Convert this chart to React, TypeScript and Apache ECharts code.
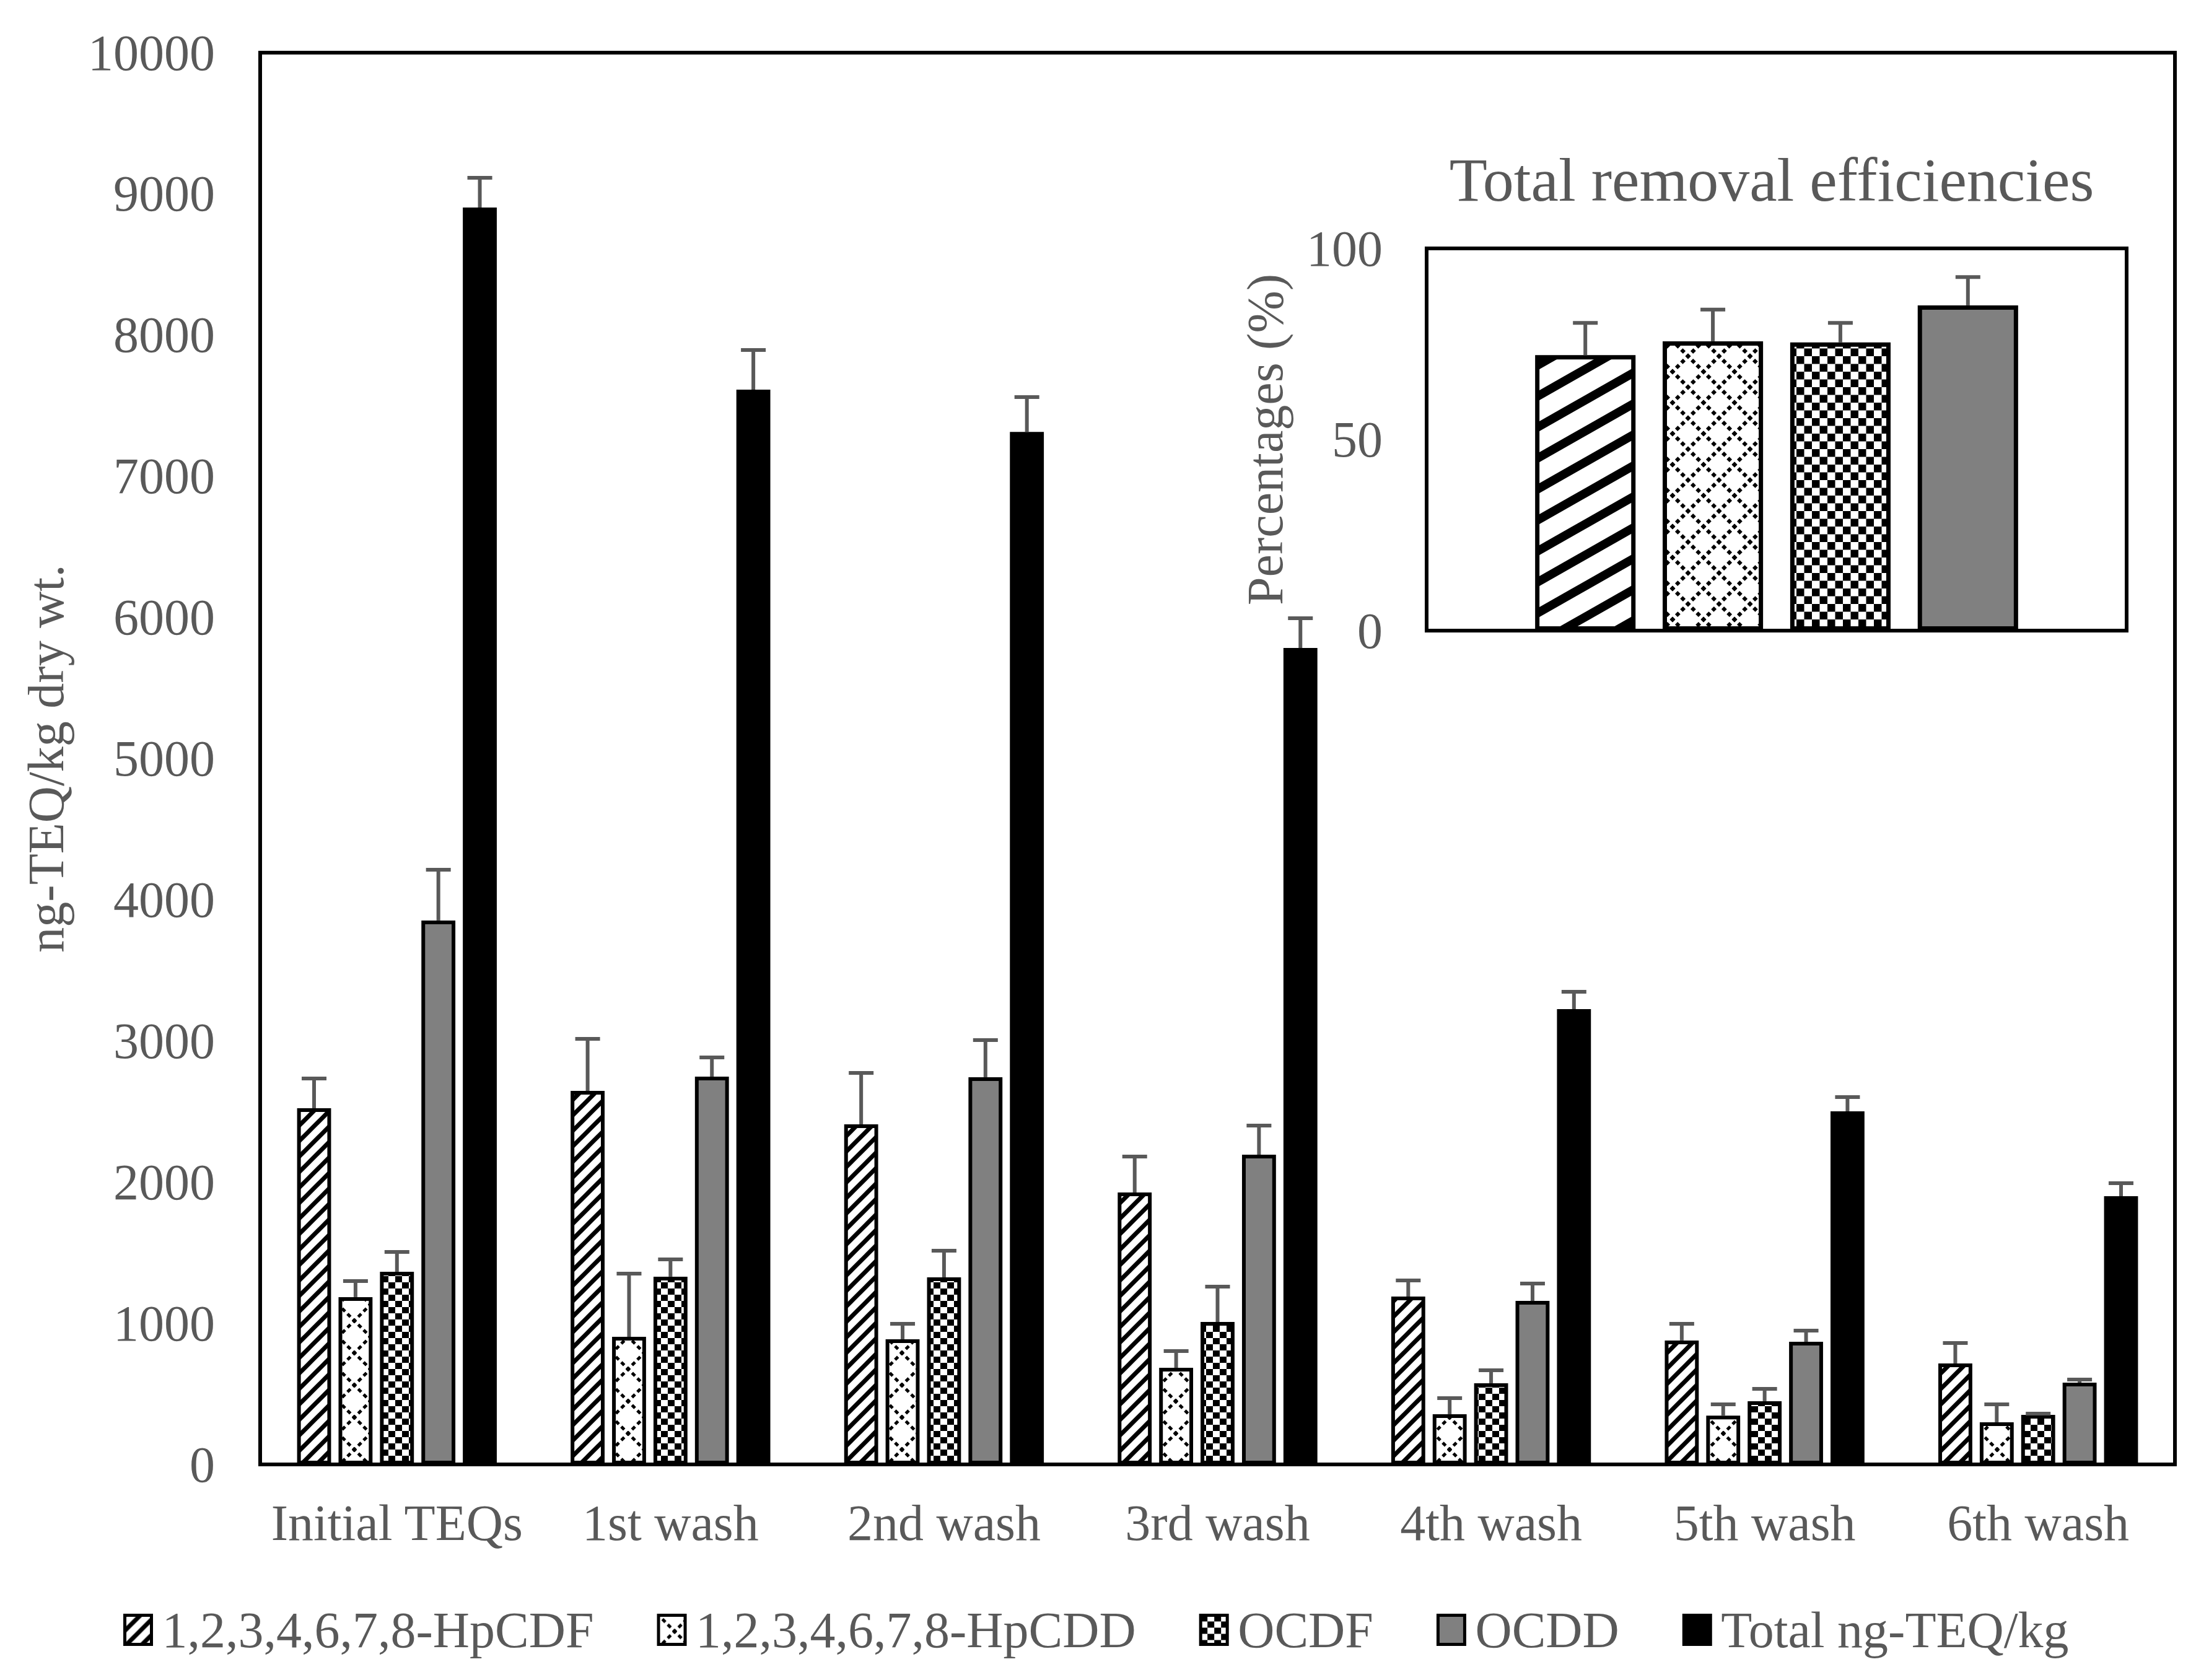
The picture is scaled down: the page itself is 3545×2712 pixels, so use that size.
import React, { useEffect, useRef } from 'react';
import * as echarts from 'echarts';

const categories = ['Initial TEQs', '1st wash', '2nd wash', '3rd wash', '4th wash', '5th wash', '6th wash'];
const seriesNames = ['1,2,3,4,6,7,8-HpCDF', '1,2,3,4,6,7,8-HpCDD', 'OCDF', 'OCDD', 'Total ng-TEQ/kg'];

const hpcdfValues = [2523, 2646, 2409, 1926, 1189, 878, 715];
const hpcdfErrors = [211, 369, 364, 255, 114, 118, 145];
const hpcddValues = [1185, 904, 886, 684, 355, 346, 298];
const hpcddErrors = [114, 447, 110, 119, 115, 80, 128];
const ocdfValues = [1365, 1330, 1325, 1009, 575, 448, 351];
const ocdfErrors = [140, 122, 189, 250, 92, 87, 9];
const ocddValues = [3853, 2747, 2742, 2194, 1158, 869, 579];
const ocddErrors = [359, 136, 264, 206, 123, 79, 22];
const totalValues = [8903, 7613, 7314, 5783, 3225, 2501, 1900];
const totalErrors = [211, 281, 246, 211, 123, 101, 92];

const insetTitle = 'Total removal efficiencies';
const insetValues = [72.1, 75.7, 75.4, 85.1];
const insetErrors = [8.4, 8.3, 5.1, 7.4];

const mainYMin = 0;
const mainYMax = 10000;
const mainYInterval = 1000;
const insetYMin = 0;
const insetYMax = 100;
const insetYInterval = 50;

const FONT = '"Liberation Serif", "Times New Roman", serif';
const TEXT = '#595959';

function makeCanvas(w: number, h: number) {
  const c = document.createElement('canvas');
  c.width = w;
  c.height = h;
  const ctx = c.getContext('2d') as CanvasRenderingContext2D;
  ctx.fillStyle = '#fff';
  ctx.fillRect(0, 0, w, h);
  return { c, ctx };
}

function stripes(px: number, py: number, lw: number) {
  const { c, ctx } = makeCanvas(px, py);
  ctx.strokeStyle = '#000';
  ctx.lineWidth = lw;
  const s = py / px;
  for (let k = -3; k <= 4; k++) {
    ctx.beginPath();
    ctx.moveTo(-px, k * py + s * px);
    ctx.lineTo(2 * px, k * py - s * 2 * px);
    ctx.stroke();
  }
  return c;
}

function lattice(p: number, lw: number) {
  const { c, ctx } = makeCanvas(p, p);
  ctx.strokeStyle = '#000';
  ctx.lineWidth = lw;
  const period = (p * Math.SQRT2) / 6;
  ctx.setLineDash([period * 0.55, period * 0.45]);
  for (let k = -2; k <= 3; k++) {
    ctx.lineDashOffset = period * 0.275;
    ctx.beginPath();
    ctx.moveTo(-p, -p + k * p);
    ctx.lineTo(2 * p, 2 * p + k * p);
    ctx.stroke();
    ctx.beginPath();
    ctx.moveTo(-p, p + k * p);
    ctx.lineTo(2 * p, -2 * p + k * p);
    ctx.stroke();
  }
  return c;
}

function checker(sx: number, sy: number) {
  const { c, ctx } = makeCanvas(sx * 2, sy * 2);
  ctx.fillStyle = '#000';
  ctx.fillRect(0, 0, sx, sy);
  ctx.fillRect(sx, sy, sx, sy);
  return c;
}

function pattern(img: HTMLCanvasElement) {
  return { image: img, repeat: 'repeat', imageWidth: img.width, imageHeight: img.height } as any;
}

function errorRender(index: number, n: number, catGap: number, barGap: number, capW: number, lw: number) {
  return (params: any, api: any) => {
    const ci = api.value(0);
    const v = api.value(1);
    const e = api.value(2);
    const base = api.coord([ci, v]);
    const top = api.coord([ci, v + e]);
    const band = api.size([1, 0])[0];
    const avail = band * (1 - catGap);
    const bw = avail / (n + (n - 1) * barGap);
    const x = base[0] - avail / 2 + index * bw * (1 + barGap) + bw / 2;
    const style = { stroke: '#595959', lineWidth: lw };
    return {
      type: 'group',
      children: [
        { type: 'line', shape: { x1: x, y1: base[1], x2: x, y2: top[1] }, style },
        { type: 'line', shape: { x1: x - capW / 2, y1: top[1], x2: x + capW / 2, y2: top[1] }, style },
      ],
    };
  };
}

export default function App() {
  const ref = useRef<HTMLDivElement>(null);

  useEffect(() => {
    if (!ref.current) return;
    const chart = echarts.init(ref.current, undefined, { renderer: 'svg' });

    const mainFills = [
      pattern(stripes(25, 25, 7)),
      pattern(lattice(52, 5)),
      pattern(checker(11, 10)),
      '#808080',
      '#000000',
    ];
    const insetFills = [
      pattern(stripes(88, 50, 14)),
      pattern(lattice(50, 6)),
      pattern(checker(12.5, 12.5)),
      '#808080',
    ];

    const mainValues = [hpcdfValues, hpcddValues, ocdfValues, ocddValues, totalValues];
    const mainErrors = [hpcdfErrors, hpcddErrors, ocdfErrors, ocddErrors, totalErrors];

    const MAIN_CAT_GAP = 0.27;
    const MAIN_BAR_GAP = 0.22;
    const INSET_CAT_GAP = 0.31;
    const INSET_BAR_GAP = 0.27;

    const series: any[] = [];
    mainValues.forEach((vals, i) => {
      series.push({
        type: 'bar',
        name: seriesNames[i],
        xAxisIndex: 0,
        yAxisIndex: 0,
        data: vals,
        barCategoryGap: MAIN_CAT_GAP * 100 + '%',
        barGap: MAIN_BAR_GAP * 100 + '%',
        itemStyle: { color: mainFills[i], borderColor: '#000', borderWidth: 6 },
      });
    });
    mainValues.forEach((vals, i) => {
      series.push({
        type: 'custom',
        name: 'err-main-' + i,
        xAxisIndex: 0,
        yAxisIndex: 0,
        z: 5,
        silent: true,
        data: vals.map((v, j) => [j, v, mainErrors[i][j]]),
        encode: { x: 0, y: 1 },
        renderItem: errorRender(i, 5, MAIN_CAT_GAP, MAIN_BAR_GAP, 40, 6),
      });
    });
    insetValues.forEach((v, i) => {
      series.push({
        type: 'bar',
        name: seriesNames[i],
        xAxisIndex: 1,
        yAxisIndex: 1,
        data: [v],
        barCategoryGap: INSET_CAT_GAP * 100 + '%',
        barGap: INSET_BAR_GAP * 100 + '%',
        itemStyle: { color: insetFills[i], borderColor: '#000', borderWidth: 7 },
      });
    });
    insetValues.forEach((v, i) => {
      series.push({
        type: 'custom',
        name: 'err-inset-' + i,
        xAxisIndex: 1,
        yAxisIndex: 1,
        z: 5,
        silent: true,
        data: [[0, v, insetErrors[i]]],
        encode: { x: 0, y: 1 },
        renderItem: errorRender(i, 4, INSET_CAT_GAP, INSET_BAR_GAP, 40, 6),
      });
    });

    const labelStyle = { color: TEXT, fontFamily: FONT, fontSize: 82 };

    chart.setOption({
      animation: false,
      backgroundColor: '#fff',
      textStyle: { fontFamily: FONT },
      grid: [
        { left: 420, top: 85, right: 34, bottom: 348, show: true, borderColor: '#000', borderWidth: 6, backgroundColor: 'transparent', containLabel: false },
        { left: 2303, top: 401, right: 112, bottom: 1694, show: true, borderColor: '#000', borderWidth: 6, backgroundColor: 'transparent', containLabel: false },
      ],
      xAxis: [
        {
          type: 'category',
          gridIndex: 0,
          data: categories,
          axisLine: { show: false },
          axisTick: { show: false },
          axisLabel: { ...labelStyle, margin: 53, interval: 0 },
        },
        {
          type: 'category',
          gridIndex: 1,
          data: [''],
          axisLine: { show: false },
          axisTick: { show: false },
          axisLabel: { show: false },
        },
      ],
      yAxis: [
        {
          type: 'value',
          gridIndex: 0,
          min: mainYMin,
          max: mainYMax,
          interval: mainYInterval,
          axisLine: { show: false },
          axisTick: { show: false },
          splitLine: { show: false },
          axisLabel: { ...labelStyle, margin: 73, formatter: (v: number) => String(v) },
          name: 'ng-TEQ/kg dry wt.',
          nameLocation: 'middle',
          nameGap: 305,
          nameTextStyle: { ...labelStyle },
        },
        {
          type: 'value',
          gridIndex: 1,
          min: insetYMin,
          max: insetYMax,
          interval: insetYInterval,
          axisLine: { show: false },
          axisTick: { show: false },
          splitLine: { show: false },
          axisLabel: { ...labelStyle, margin: 71, formatter: (v: number) => String(v) },
          name: 'Percentages (%)',
          nameLocation: 'middle',
          nameGap: 220,
          nameTextStyle: { ...labelStyle },
        },
      ],
      legend: {
        data: seriesNames,
        left: 199,
        top: 2590,
        padding: 0,
        icon: 'rect',
        itemWidth: 43,
        itemHeight: 47,
        itemGap: 102,
        itemStyle: { borderColor: '#000', borderWidth: 5 },
        textStyle: { ...labelStyle, padding: [0, 0, 0, 12] },
        selectedMode: false,
      },
      graphic: [
        {
          type: 'text',
          x: 2860,
          y: 290,
          silent: true,
          style: {
            text: insetTitle,
            fill: TEXT,
            font: '100px ' + FONT,
            textAlign: 'center',
            textVerticalAlign: 'middle',
            align: 'center',
            verticalAlign: 'middle',
          },
        },
      ],
      series,
    });

    return () => {
      chart.dispose();
    };
  }, []);

  return (
    <div
      ref={ref}
      style={{ position: 'absolute', left: 0, top: 0, width: 3545, height: 2712, background: '#fff' }}
    />
  );
}
